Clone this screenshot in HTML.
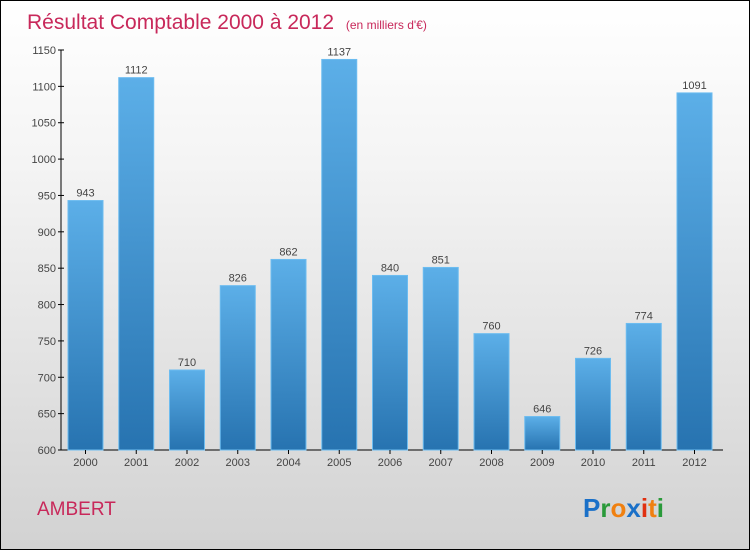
<!DOCTYPE html>
<html><head><meta charset="utf-8"><style>
html,body{margin:0;padding:0}
body{width:750px;height:550px;overflow:hidden;font-family:"Liberation Sans",sans-serif}
#wrap{position:relative;width:748px;height:548px;border:1px solid #000;background:linear-gradient(#ffffff,#f4f4f4 30%,#d2d2d2)}
</style></head><body>
<div id="wrap">
<svg id="chart" width="748" height="548">
<defs><linearGradient id="bg" x1="0" y1="0" x2="0" y2="1"><stop offset="0" stop-color="#5cafe8"/><stop offset="1" stop-color="#2773b0"/></linearGradient></defs>
<text x="26" y="28" font-size="21" fill="#c8285a">Résultat Comptable 2000 à 2012 <tspan font-size="12" dx="6">(en milliers d'€)</tspan></text>
<text x="36" y="514" font-size="19" fill="#c8285a">AMBERT</text>
<g font-size="26" font-weight="bold">
<text x="582" y="516"><tspan fill="#1a70c8">P</tspan><tspan fill="#2a9a3a">r</tspan><tspan fill="#f08010">o</tspan><tspan fill="#1a70c8">x</tspan><tspan fill="#e03010">i</tspan><tspan fill="#f08010">t</tspan><tspan fill="#2a9a3a">i</tspan></text></g>
<g id="plot"></g>
</svg></div>
<script>
const categories=["2000","2001","2002","2003","2004","2005","2006","2007","2008","2009","2010","2011","2012"];
const values=[943,1112,710,826,862,1137,840,851,760,646,726,774,1091];
const ticks=[600,650,700,750,800,850,900,950,1000,1050,1100,1150];
const NS="http://www.w3.org/2000/svg";
const g=document.getElementById('plot');
const y=v=>449-(v-600)*400/550;
const x=i=>84.5+i*50.75;
function el(t,a){const e=document.createElementNS(NS,t);for(const k in a)e.setAttribute(k,a[k]);g.appendChild(e);return e;}
let ax=el('line',{x1:60,y1:49,x2:60,y2:449,stroke:'#000'});


let bx=el('line',{x1:60,y1:449,x2:722,y2:449,stroke:'#000'});


ticks.forEach(t=>{
 el('line',{x1:57,y1:y(t),x2:63,y2:y(t),stroke:'#000'});
 const tx=el('text',{x:55,y:y(t)+4,'text-anchor':'end','font-size':11,fill:'#444'});tx.textContent=t;
 
 
});
categories.forEach((c,i)=>{
 const r=el('rect',{x:x(i)-17.5,y:y(values[i]),width:35,height:449-y(values[i]),fill:'url(#bg)',stroke:'#6cbcf0','stroke-width':1});
 
 
 el('line',{x1:x(i),y1:449,x2:x(i),y2:453,stroke:'#000'});
 const l=el('text',{x:x(i),y:465,'text-anchor':'middle','font-size':11,fill:'#444'});l.textContent=c;
 
 
 const v=el('text',{x:x(i),y:y(values[i])-4,'text-anchor':'middle','font-size':11,fill:'#444'});v.textContent=values[i];
 
 
});
</script>
</body></html>
